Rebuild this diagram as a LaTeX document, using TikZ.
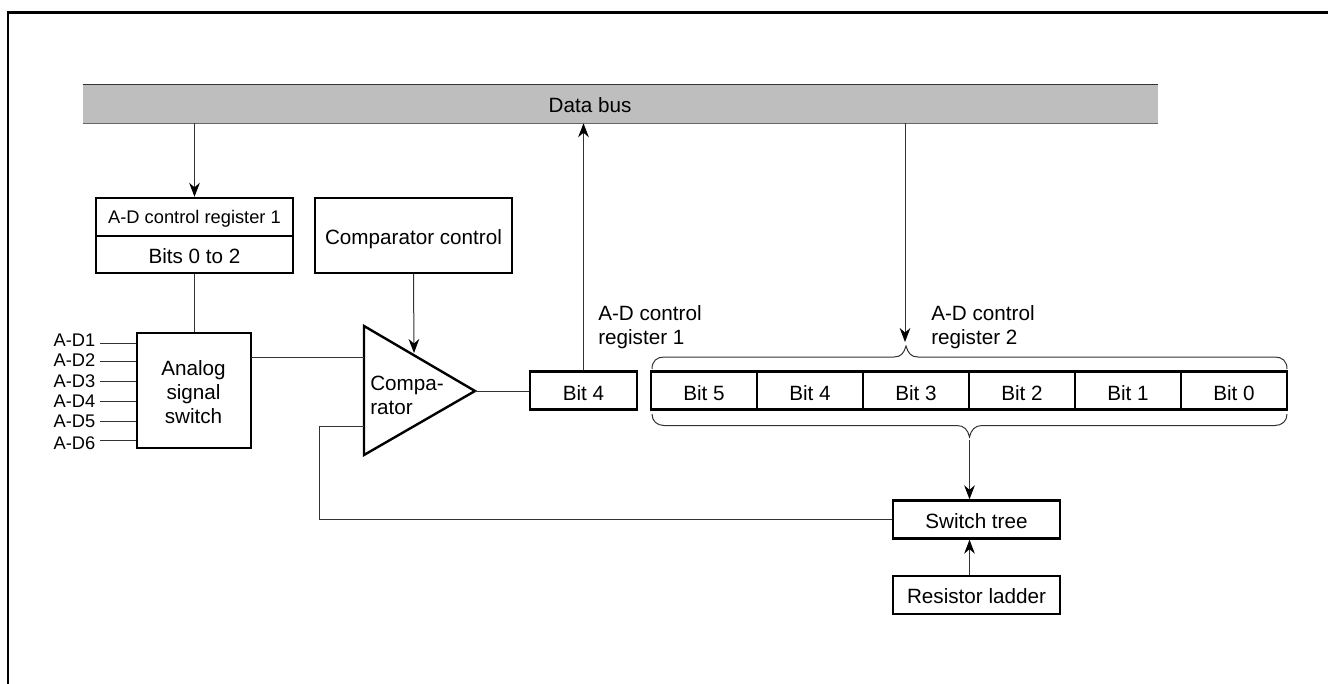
\documentclass[tikz,border=0pt]{standalone}
\usepackage{fontspec}
\setmainfont{Liberation Sans}
\usetikzlibrary{arrows.meta,calc}
\definecolor{busgray}{HTML}{BEBEBE}
\definecolor{linegray}{HTML}{333333}
\tikzset{
  x=.75pt,y=-.75pt,
  txt/.style={inner sep=0pt,font=\fontsize{15.5}{18}\selectfont,text=black,align=center},
  smalltxt/.style={inner sep=0pt,font=\fontsize{13.7}{16}\selectfont,text=black},
  lefttxt/.style={txt,align=left},
  box/.style={draw=black,line width=1.8pt,fill=white,inner sep=0pt,txt,text height=13pt,text depth=0pt},
  bitbox/.style={box,text height=14.5pt},
  wire/.style={draw=linegray,line width=.75pt},
  arrow/.style={wire,-{Stealth[length=10.5pt,width=8pt,inset=3.4pt,color=black]}},
  bracepath/.style={draw=linegray,line width=.75pt},
}
\begin{document}
\begin{tikzpicture}
\useasboundingbox (0,0) rectangle (1328,684);
% outer frame
\draw[line width=1.9pt,black] (1328,12.5) -- (8,12.5) -- (8,684);
% data bus
\node[txt,fill=busgray,minimum width=1075*.75pt,minimum height=38*.75pt] (bus) at (620.5,104) {};
\node[txt] (buslabel) at (590,105) {Data bus};
\draw[line width=1pt,black!80] (bus.north west) -- (bus.north east);
\draw[line width=1pt,black!60] (bus.south west) -- (bus.south east);
% register 1
\node[box,minimum width=197*.75pt,minimum height=38*.75pt,smalltxt,text height=10.5pt] (reg) at (194.5,217) {A-D control register 1};
\node[box,minimum width=197*.75pt,minimum height=37*.75pt] (bits) at (194.5,254.5) {Bits 0 to 2};
\node[box,minimum width=197*.75pt,minimum height=75*.75pt] (cc) at (413.5,235.5) {Comparator control};
% analog switch
\node[box,minimum width=114*.75pt,minimum height=115*.75pt] (sw) at (194,390.5) {};
\node[txt] (swtxt) at (193.5,392.5) {Analog\\signal\\switch};
% inputs
\foreach \n/\ty/\ly in {1/340/343,2/360/361,3/381/381,4/401/401,5/421/421,6/443/440}{
  \node[smalltxt,anchor=east] (ad\n) at (95.5,\ty) {A-D\n};
  \coordinate (adl\n) at (100,\ly);
  \draw[wire] (adl\n) -- (adl\n -| sw.west);
}
% comparator
\coordinate (cmpa) at (364,326);
\coordinate (cmpb) at (475,391);
\coordinate (cmpc) at (364,455);
\draw[line width=1.8pt,black,line join=miter] (cmpa) -- (cmpb) -- (cmpc) -- cycle;
\node[lefttxt,anchor=west] (cmptxt) at (370,395) {Compa-\\rator};
% bits
\node[bitbox,minimum width=107*.75pt,minimum height=38*.75pt] (b4a) at (583.5,390.5) {Bit 4};
\foreach \i/\lab/\cx in {0/5/704,1/4/810,2/3/916,3/2/1022,4/1/1128,5/0/1234}{
  \node[bitbox,minimum width=106*.75pt,minimum height=38*.75pt] (r\lab) at (\cx,390.5) {Bit \lab};
}
% switch tree and ladder
\node[box,minimum width=167*.75pt,minimum height=38*.75pt] (st) at (976.5,519.5) {Switch tree};
\node[box,minimum width=167*.75pt,minimum height=38*.75pt] (rl) at (976.5,595) {Resistor ladder};
% labels
\node[lefttxt,anchor=west] (l1) at (598,327) {A-D control\\register 1};
\node[lefttxt,anchor=west] (l2) at (931,327) {A-D control\\register 2};
% braces
\coordinate (tt) at (906,346);
\coordinate (bt) at (969.5,437);
\draw[bracepath] (652,369) .. controls (652,361) and (657,357) .. (664,357)
  -- (894,357) .. controls (901,357) and (904,353) .. (tt)
  .. controls (908,353) and (911,357) .. (918,357)
  -- (1275,357) .. controls (1282,357) and (1287,361) .. (1287,369);
\draw[bracepath] (652,414) .. controls (652,421) and (657,425.5) .. (664,425.5)
  -- (957,425.5) .. controls (964,425.5) and (968,430) .. (bt)
  .. controls (971,430) and (975,425.5) .. (982,425.5)
  -- (1275,425.5) .. controls (1282,425.5) and (1287,421) .. (1287,414);
% connectors
\coordinate (tapin) at (905,342);
\coordinate (tapout) at (969.5,440);
\coordinate (fb) at (319,426);
\coordinate (cin) at (364,426);
\coordinate (cctip) at (414,353);
\coordinate (swout) at (251,357);
\draw[arrow] (bus.south -| reg.north) -- (reg.north);
\draw[wire] (bits.south) -- (bits.south |- sw.north);
\draw[arrow] (cc.south) -- (cctip);
\draw[wire] (swout) -- (swout -| cmpa);
\draw[wire] (cmpb) -- (cmpb -| b4a.west);
\draw[arrow] (b4a.north) -- (b4a.north |- bus.south);
\draw[arrow] (bus.south -| tapin) -- (tapin);
\draw[arrow] (tapout) -- (tapout |- st.north);
\draw[arrow] (rl.north -| tapout) -- (tapout |- st.south);
\draw[wire] (cin) -- (fb) -- (fb |- st.west) -- (st.west);
\end{tikzpicture}
\end{document}
